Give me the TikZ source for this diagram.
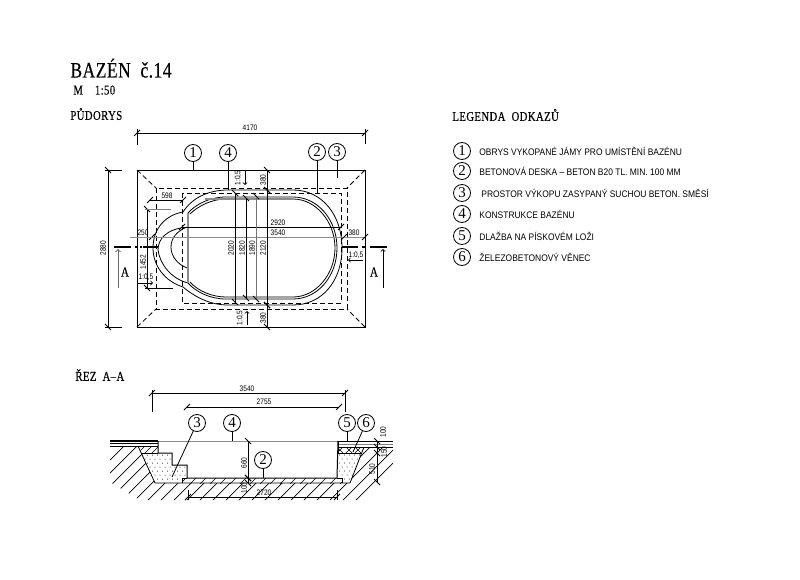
\documentclass[tikz,border=0pt]{standalone}
\usepackage{fontspec}
\newfontfamily\cadfont[FakeStretch=0.82]{Liberation Sans}
\newfontfamily\legendfont[FakeStretch=0.89]{Liberation Sans}
\newfontfamily\titlefont[FakeStretch=0.8,LetterSpace=2,FakeBold=0.2]{Liberation Serif}
\newfontfamily\headfont[FakeStretch=0.8,LetterSpace=3,FakeBold=0.4]{Liberation Serif}
\newfontfamily\digitfont{Liberation Serif}

\tikzset{
  refmark/.style={draw,circle,minimum size=17pt,inner sep=0pt,font=\digitfont\fontsize{15}{15}\selectfont},
  dimtext/.style={font=\cadfont\fontsize{8}{8}\selectfont,inner sep=0pt},
  legendtext/.style={anchor=west,font=\legendfont\fontsize{9.5}{10}\selectfont,inner sep=0pt},
  headtext/.style={anchor=west,font=\headfont\fontsize{13.4}{13.4}\selectfont,inner sep=0pt},
  greyline/.style={draw=black!45,line width=1.2pt},
  cutline/.style={line width=2pt},
  dashline/.style={dashed,dash pattern=on 5pt off 3pt}
}

\NewDocumentCommand{\refmark}{mmm}{%
\node[refmark] (#1) at (#2) {#3};%
}
\NewDocumentCommand{\hdim}{O{}mmm}{%
\draw[#1] (#3,#2) -- (#4,#2);%
\draw (#3-3,#2+3) -- (#3+3,#2-3);%
\draw (#4-3,#2+3) -- (#4+3,#2-3);%
}
\NewDocumentCommand{\vdim}{O{}mmm}{%
\draw[#1] (#2,#3) -- (#2,#4);%
\draw (#2-3,#3-3) -- (#2+3,#3+3);%
\draw (#2-3,#4-3) -- (#2+3,#4+3);%
}
\NewDocumentCommand{\backfill}{mm}{%
\foreach \y [count=\rowno] in {#2} {%
\foreach \x in {#1} {%
\fill ({\x+2.5*mod(\rowno,2)},\y) circle (0.5);%
}}%
}

\begin{document}
\begin{tikzpicture}[x=1pt,y=-1pt,line width=0.8pt]
  \useasboundingbox (0,0) rectangle (800,580);

  % Headings.
  \node[anchor=west,font=\titlefont\fontsize{22}{20}\selectfont,inner sep=0pt,text height=15pt,text depth=0pt] (title) at (70,70) {BAZÉN\ \ č.14};
  \node[headtext,text height=9pt,text depth=0pt] (scale) at (73,90) {M\hspace{12pt}1:50};
  \node[headtext] (planhead) at (70,114) {PŮDORYS};
  \node[headtext] (cuthead) at (75,375) {ŘEZ\ \ A–A};
  \node[headtext] (legendhead) at (452,115) {LEGENDA\ \ ODKAZŮ};

  % Legend.
  \foreach \num/\y/\x/\txt in {%
    1/151/479/OBRYS VYKOPANÉ JÁMY PRO UMÍSTĚNÍ BAZÉNU,%
    2/171/479/BETONOVÁ DESKA – BETON B20 TL. MIN. 100 MM,%
    3/193/481/PROSTOR VÝKOPU ZASYPANÝ SUCHOU BETON. SMĚSÍ,%
    4/214/479/KONSTRUKCE BAZÉNU,%
    5/236/479/DLAŽBA NA PÍSKOVÉM LOŽI,%
    6/257/479/ŽELEZOBETONOVÝ VĚNEC} {
    \refmark{legend\num}{462,\y}{\num}
    \node[legendtext] (legendtxt\num) at (\x,\y) {\txt};
  }

  % Pit outline.
  \draw (137,170) rectangle (365,327);
  \draw[dashline] (156,188) rectangle (347,309);
  \draw[dashline] (182,193) rectangle (341,303);
  \draw[dashline] (137,170) -- (156,188);
  \draw[dashline] (365,170) -- (347,188);
  \draw[dashline] (137,327) -- (156,309);
  \draw[dashline] (365,327) -- (347,309);

  % Pool contours.
  \draw (183,212) .. controls (192,198) and (208,190) .. (228,190) -- (293,190)
    .. controls (322,190) and (342,215) .. (342,248)
    .. controls (342,281) and (322,305) .. (293,305) -- (228,305)
    .. controls (210,305) and (195,297) .. (183,287)
    .. controls (164,281) and (153,265) .. (153,248)
    .. controls (153,228) and (166,215) .. (183,212);
  \draw (188,213) .. controls (196,204) and (210,197) .. (226,197) -- (293,197)
    .. controls (318,197) and (337,220) .. (337,248)
    .. controls (337,276) and (318,299) .. (293,299) -- (226,299)
    .. controls (210,299) and (196,292) .. (188,283);
  \draw (190,214) .. controls (198,206) and (212,199) .. (226,199) -- (293,199)
    .. controls (316,199) and (335,222) .. (335,248)
    .. controls (335,274) and (316,297) .. (293,297) -- (226,297)
    .. controls (212,297) and (198,291) .. (190,282);
  \draw (181,228) .. controls (168,230) and (158,238) .. (158,250)
    .. controls (160,265) and (172,279) .. (188,283);
  \draw (187,227) .. controls (177,231) and (171,238) .. (171,247)
    .. controls (171,256) and (177,264) .. (187,268);
  \draw[greyline] (188,213) -- (188,283);
  \draw[greyline] (205,199) -- (293,199);

  % Section line A.
  \draw[cutline] (114,247) -- (131,247);
  \draw[cutline] (143,247) -- (158,247);
  \draw[cutline] (342,247) -- (358,247);
  \draw[cutline] (370,247) -- (387,247);
  \draw[cutline,dashed,dash pattern=on 2pt off 3pt] (135,247) -- (142,247);
  \draw[cutline,line width=1.4pt] (362,247) -- (366,247);
  \coordinate (cutleft) at (118,288);
  \coordinate (cutlefttop) at (118,249);
  \coordinate (cutright) at (383,288);
  \coordinate (cutrighttop) at (383,249);
  \draw[->,black!60,line width=1pt] (cutleft) -- (cutlefttop);
  \draw[->,line width=0.8pt] (cutright) -- (cutrighttop);
  \node[font=\titlefont\fontsize{14}{14}\selectfont,inner sep=0pt] (cutlabl) at (125,272) {A};
  \node[font=\titlefont\fontsize{14}{14}\selectfont,inner sep=0pt] (cutlabr) at (374,272) {A};

  % Plan dimensions.
  \hdim{133}{137}{365}
  \draw (137,129) -- (137,145);
  \draw (365,129) -- (365,144);
  \node[dimtext] (dima) at (250,128) {4170};
  \vdim{108}{170}{327}
  \draw (105,170) -- (122,170);
  \draw (105,327) -- (122,327);
  \node[dimtext,rotate=90] (dimb) at (103,248) {2880};
  \hdim{200}{150}{183}
  \node[dimtext] (dimc) at (167,196) {598};
  \vdim{147}{209}{288}
  \draw[black!50] (145,209) -- (171,209);
  \draw (145,288) -- (173,288);
  \node[dimtext,rotate=90] (dimd) at (143,262) {1452};
  \hdim[greyline,line width=0.9pt]{237}{152}{344}
  \draw[greyline,line width=0.9pt] (130,237) -- (152,237);
  \draw[greyline,line width=0.9pt] (344,237) -- (365,237);
  \node[dimtext] (dime) at (143,233) {250};
  \node[dimtext] (dimf) at (354,233) {380};
  \node[dimtext] (dimg) at (278,233) {3540};
  \draw (362,240) -- (368,234);
  \hdim{227}{182}{341}
  \node[dimtext] (dimh) at (278,223) {2920};
  \vdim{235}{193}{302}
  \vdim{246}{198}{298}
  \vdim[black!55,line width=1pt]{256}{196}{299}
  \vdim{267}{190}{305}
  \node[dimtext,rotate=90] (dimi) at (231,248) {2020};
  \node[dimtext,rotate=90] (dimj) at (242,248) {1820};
  \node[dimtext,rotate=90] (dimk) at (252,248) {1890};
  \node[dimtext,rotate=90] (diml) at (263,248) {2120};
  \vdim{267}{170}{190}
  \vdim{267}{305}{327}
  \node[dimtext,rotate=90] (dimm) at (263,180) {380};
  \node[dimtext,rotate=90] (dimn) at (263,318) {380};

  % Slope marks.
  \coordinate (slopea) at (245,171);
  \coordinate (slopeaend) at (245,185);
  \coordinate (slopeb) at (247,325);
  \coordinate (slopebend) at (247,311);
  \coordinate (slopec) at (137,283);
  \coordinate (slopecend) at (153,283);
  \coordinate (sloped) at (363,260);
  \coordinate (slopedend) at (348,260);
  \draw[->] (slopea) -- (slopeaend);
  \draw[->] (slopeb) -- (slopebend);
  \draw[->] (slopec) -- (slopecend);
  \draw[->] (sloped) -- (slopedend);
  \node[dimtext,rotate=90] (slopeatxt) at (238,178) {1:0,5};
  \node[dimtext,rotate=90] (slopebtxt) at (240,318) {1:0,5};
  \node[dimtext] (slopectxt) at (146,277) {1:0,5};
  \node[dimtext] (slopedtxt) at (356,255) {1:0,5};

  % Plan references.
  \refmark{planone}{193,153}{1}
  \refmark{planfour}{228,153}{4}
  \refmark{plantwo}{317,152}{2}
  \refmark{planthree}{337,152}{3}
  \coordinate (planoneend) at (193,170);
  \coordinate (planfourend) at (228,190);
  \coordinate (plantwoend) at (317,193);
  \coordinate (planthreeend) at (337,178);
  \draw (planone) -- (planoneend);
  \draw (planfour) -- (planfourend);
  \draw (plantwo) -- (plantwoend);
  \draw (planthree) -- (planthreeend);

  % Soil hatching.
  \begin{scope}
    \clip (110,447) -- (138,447) -- (155,483) -- (350,483) -- (364,447) -- (393,447)
      -- (393,470) -- (366,500) -- (140,500) -- (110,482) -- cycle;
    \foreach \x in {60,73,...,400} {
      \draw[line width=0.7pt] (\x,510) -- (\x+65,445);
    }
  \end{scope}

  % Slab hatching.
  \begin{scope}
    \clip (183,478) rectangle (342,483);
    \foreach \x in {180,190,...,340} {
      \draw[line width=0.6pt] (\x,484) -- (\x+7,477);
    }
  \end{scope}

  % Wreath hatching.
  \begin{scope}
    \clip (138,446) -- (158,446) -- (158,453) -- (142,453) -- cycle;
    \foreach \x in {130,137,...,160} {
      \draw[line width=0.6pt] (\x,454) -- (\x+8,446);
    }
  \end{scope}
  \begin{scope}
    \clip (338,447) rectangle (364,453);
    \foreach \x in {336,345,...,365} {
      \draw[line width=0.6pt] (\x,454) -- (\x+8,446);
      \draw[line width=0.6pt] (\x,446) -- (\x+8,454);
    }
  \end{scope}

  % Backfill.
  \begin{scope}
    \clip (141,453) -- (172,453) -- (172,465) -- (187,465) -- (187,477)
      -- (182,477) -- (182,483) -- (155,483) -- cycle;
    \backfill{140,145,...,190}{455,459,...,482}
  \end{scope}
  \begin{scope}
    \clip (338,453) -- (362,453) -- (350,483) -- (342,483) -- (342,478)
      -- (337,478) -- cycle;
    \backfill{337,342,...,365}{455,459,...,482}
  \end{scope}

  % Cut outline.
  \draw[line width=1.2pt] (110,441) -- (158,441);
  \draw (110,443) -- (158,443);
  \draw (110,446) -- (158,446);
  \draw[greyline,line width=0.9pt] (158,441) -- (338,441);
  \draw[line width=1pt] (338,441) -- (393,441);
  \draw[black!50,line width=1pt] (338,444) -- (393,444);
  \draw (338,447) -- (393,447);
  \draw (338,453) -- (362,453);
  \draw[line width=1pt] (158,441) -- (158,453) -- (172,453) -- (172,465) -- (187,465) -- (187,478)
    -- (337,478) -- (338,441);
  \draw (142,453) -- (158,453);
  \draw (338,441) -- (338,453);
  \draw (138,446) -- (155,483) -- (350,483) -- (364,447);
  \draw (182,478) -- (187,478);
  \draw (182,478) -- (182,483);
  \draw (337,478) -- (342,478) -- (342,483);

  % Cut dimensions.
  \hdim{393}{152}{345}
  \draw (152,390) -- (152,412);
  \draw (345,390) -- (345,412);
  \node[dimtext] (cuta) at (247,389) {3540};
  \hdim{407}{187}{339}
  \node[dimtext] (cutb) at (264,402) {2755};
  \vdim{248}{441}{478}
  \vdim{248}{478}{483}
  \node[dimtext,rotate=90] (cutc) at (244,463) {660};
  \node[dimtext,rotate=90] (cutd) at (244,488) {100};
  \hdim{497}{188}{337}
  \draw (188,490) -- (188,500);
  \draw (337,490) -- (337,500);
  \node[dimtext] (cute) at (264,493) {2720};
  \vdim{377}{441}{482}
  \draw (374,444) -- (380,450);
  \draw (374,450) -- (380,456);
  \node[dimtext,rotate=90] (cutf) at (383,432) {100};
  \node[dimtext,rotate=90] (cutg) at (384,452) {150};
  \node[dimtext,rotate=90] (cuth) at (372,469) {510};

  % Cut references.
  \refmark{cutthree}{197,423}{3}
  \refmark{cutfour}{232,423}{4}
  \refmark{cuttwo}{263,460}{2}
  \refmark{cutfive}{347,423}{5}
  \refmark{cutsix}{366,423}{6}
  \coordinate (cutthreeend) at (172,477);
  \coordinate (cutfourend) at (232,441);
  \coordinate (cuttwoend) at (263,478);
  \coordinate (cutfiveend) at (347,441);
  \coordinate (cutsixend) at (353,452);
  \draw (cutthree) -- (cutthreeend);
  \draw (cutfour) -- (cutfourend);
  \draw (cuttwo) -- (cuttwoend);
  \draw (cutfive) -- (cutfiveend);
  \draw (cutsix) -- (cutsixend);
\end{tikzpicture}
\end{document}
